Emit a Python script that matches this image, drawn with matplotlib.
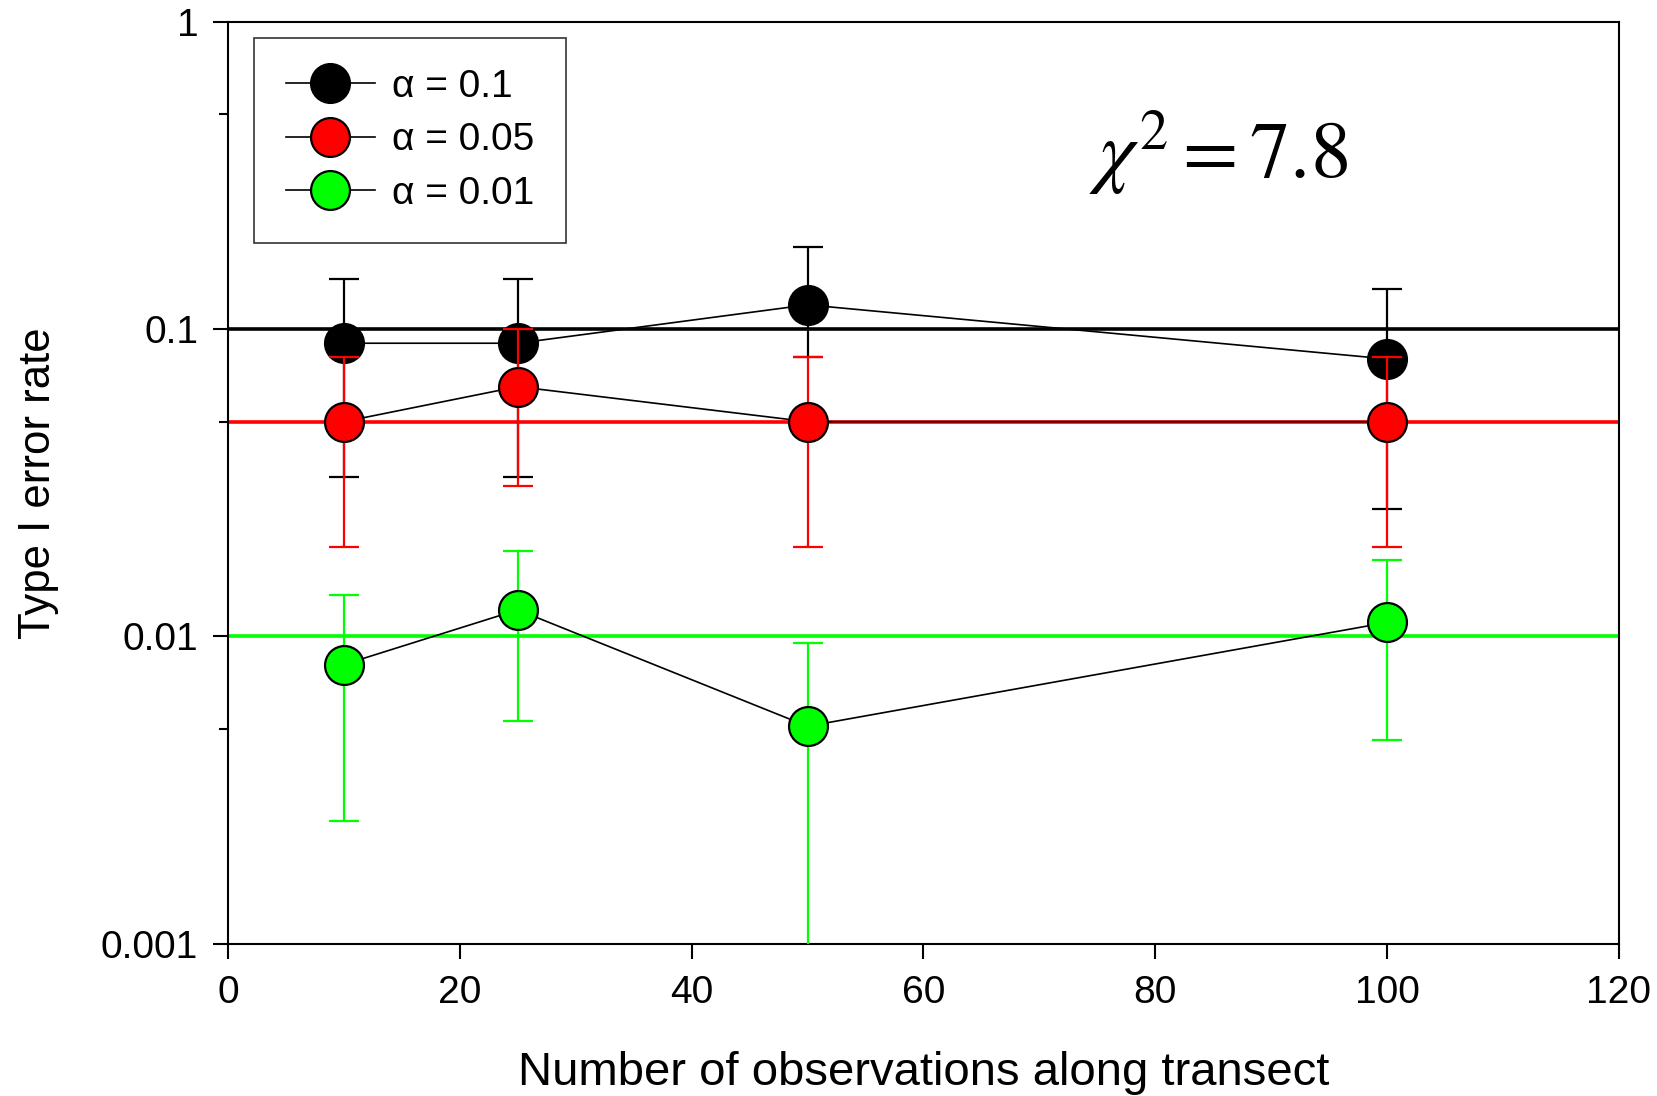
import matplotlib
matplotlib.use('Agg')
import matplotlib.pyplot as plt
import numpy as np

plt.rcParams['font.family'] = ['Liberation Sans', 'DejaVu Sans']
plt.rcParams['mathtext.fontset'] = 'stix'

# data
n_obs = [10, 25, 50, 100]
alphas = [0.1, 0.05, 0.01]
labels = ['α = 0.1', 'α = 0.05', 'α = 0.01']
colors = ['black', '#ff0000', '#00ff00']

rate = [
    [0.090, 0.090, 0.120, 0.080],
    [0.050, 0.065, 0.050, 0.050],
    [0.0081, 0.0122, 0.0051, 0.0111],
]
upper = [
    [0.146, 0.146, 0.185, 0.135],
    [0.081, 0.100, 0.081, 0.081],
    [0.0136, 0.0190, 0.0095, 0.0177],
]
lower = [
    [0.033, 0.033, 0.081, 0.026],
    [0.0196, 0.0308, 0.0196, 0.0196],
    [0.0025, 0.0053, 0.0002, 0.0046],
]

fig = plt.figure(figsize=(16.57, 10.96), dpi=100)
ax = fig.add_axes([0.1376, 0.139, 0.8394, 0.841])

# reference lines at nominal alpha
for a, c in zip(alphas, colors):
    ax.axhline(a, color=c, lw=2.6, zorder=2)

handles = []
for i in range(3):
    y = np.array(rate[i])
    yerr = [y - np.array(lower[i]), np.array(upper[i]) - y]
    ax.errorbar(n_obs, y, yerr=yerr, fmt='none', ecolor=colors[i],
                elinewidth=1.6, capsize=11, capthick=1.6, zorder=4)
    h, = ax.plot(n_obs, y, '-', color='black', lw=1.2, marker='o',
                 ms=28, mfc=colors[i], mec='black', mew=1.6,
                 zorder=3 if i == 0 else 5)
    handles.append(h)

ax.set_yscale('log')
ax.set_ylim(0.001, 1)
ax.set_xlim(0, 120)
ax.set_xticks([0, 20, 40, 60, 80, 100, 120])
ax.set_yticks([0.001, 0.01, 0.1, 1])
ax.set_yticklabels(['0.001', '0.01', '0.1', '1'])
ax.yaxis.set_minor_locator(matplotlib.ticker.FixedLocator([0.005, 0.05, 0.5]))
ax.yaxis.set_minor_formatter(matplotlib.ticker.NullFormatter())

for s in ax.spines.values():
    s.set_linewidth(1.5)
ax.tick_params(axis='both', which='major', direction='out', length=10.5,
               width=1.5, labelsize=28)
ax.tick_params(axis='y', which='major', pad=11)
ax.tick_params(axis='x', which='major', pad=12)
ax.tick_params(axis='y', which='minor', direction='out', length=6.5, width=1.5)

ax.set_xlabel('Number of observations along transect', fontsize=34, labelpad=29)
ax.set_ylabel('Type I error rate', fontsize=31.5, labelpad=30)

ax.text(0.712, 0.858, r'$\chi^2 = 7.8$', transform=ax.transAxes,
        fontsize=58, ha='center', va='center')

leg = ax.legend(handles, labels, loc='upper left', bbox_to_anchor=(0.019, 0.983),
                borderaxespad=0, fontsize=28, frameon=True, fancybox=False,
                handlelength=2.3, handletextpad=0.45, labelspacing=0.45,
                borderpad=0.8, markerscale=1.0)
leg.get_frame().set_edgecolor('black')
leg.get_frame().set_linewidth(1.2)

fig.savefig('out.png', dpi=100)
